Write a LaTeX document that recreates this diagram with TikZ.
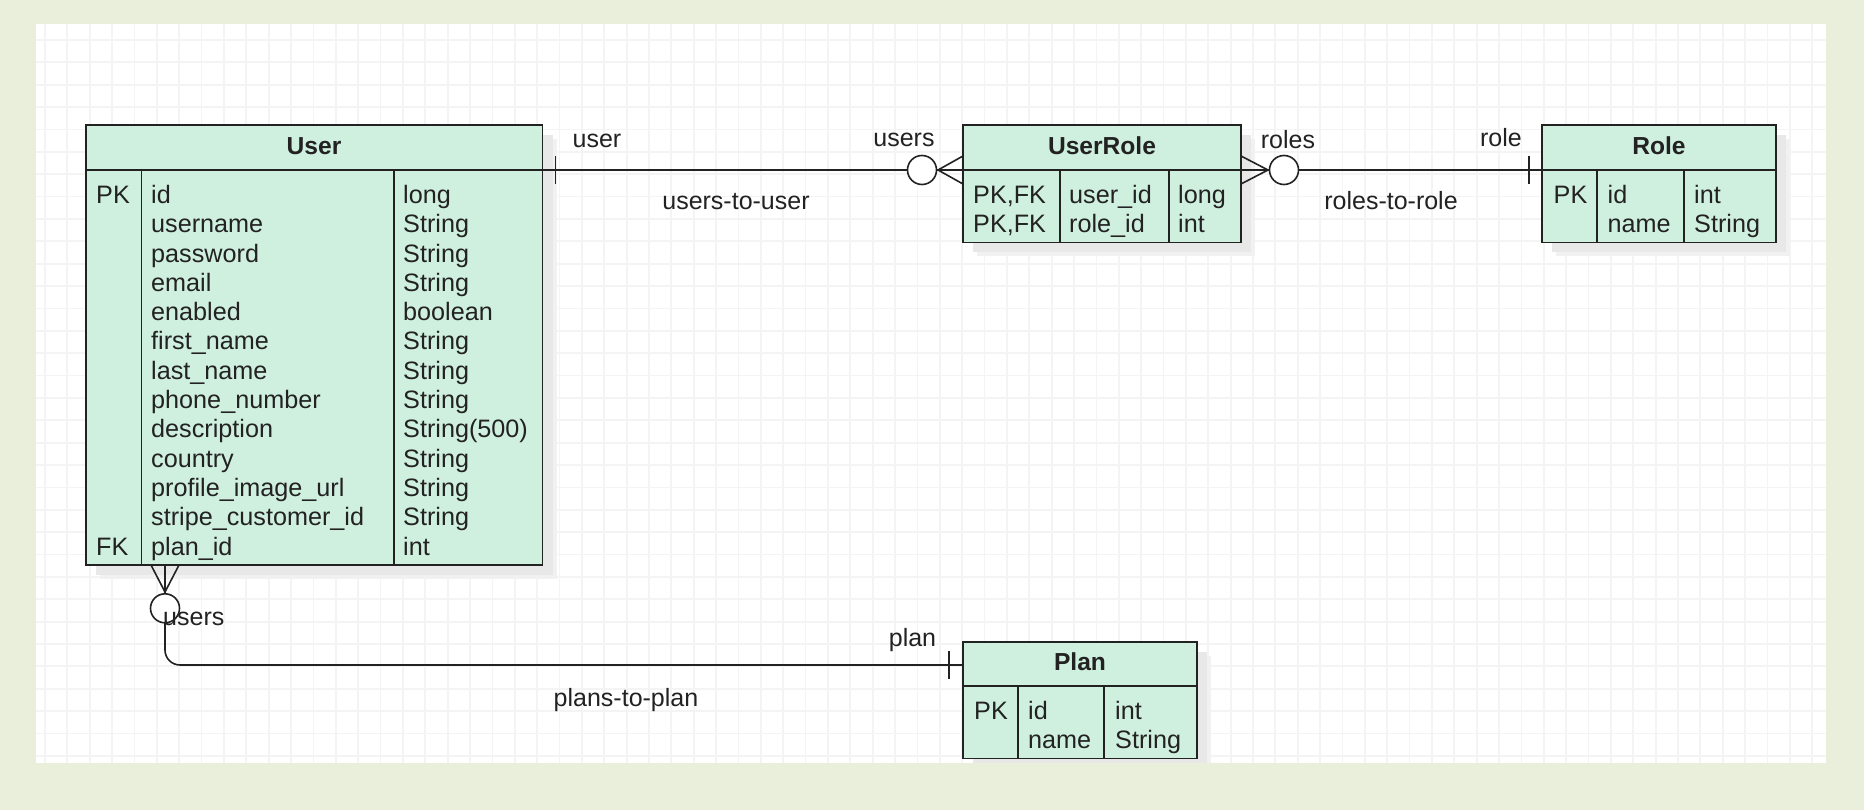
\documentclass[tikz,border=0pt]{standalone}
\usepackage{fontspec}
\setmainfont{Liberation Sans}
\usetikzlibrary{calc}
\definecolor{outerbg}{RGB}{234,239,220}
\definecolor{tblfill}{RGB}{208,240,223}
\definecolor{ink}{RGB}{34,34,34}
\definecolor{gridc}{RGB}{244,244,244}
\definecolor{shadowA}{RGB}{241,241,241}
\definecolor{shadowB}{RGB}{232,232,232}
\begin{document}
\begin{tikzpicture}[x=1pt,y=-1pt,
  tbl/.style={draw=ink, line width=1.6pt, fill=tblfill, inner sep=0pt, outer sep=0pt, anchor=north west},
  cell/.style={inner sep=0pt, anchor=base west, text=ink, font=\fontsize{25.2}{29.3}\selectfont},
  ttl/.style={inner sep=0pt, anchor=base, text=ink, font=\fontsize{24.6}{29.3}\selectfont\bfseries},
  lbl/.style={inner sep=0pt, anchor=base, text=ink, font=\fontsize{25}{29.3}\selectfont},
  conn/.style={draw=ink, line width=1.6pt},
  inner/.style={draw=ink, line width=1.6pt},
  thick/.style={draw=ink, line width=2.8pt},
  ring/.style={circle, draw=ink, line width=1.6pt, fill=white, minimum size=29pt, inner sep=0pt},
  gridline/.style={draw=gridc, line width=1.8pt}]
\fill[outerbg] (0,0) rectangle (1864,810);
\useasboundingbox (0,0) rectangle (1864,810);
\fill[white] (35.7,24) rectangle (1825.7,762.7);
\begin{scope}
\clip (35.7,24) rectangle (1825.7,762.7);
\foreach \k in {0,...,79} \draw[gridline] ({45+22.37*\k},24) -- ({45+22.37*\k},762.7);
\foreach \k in {0,...,32} \draw[gridline] (35.7,{40+22.37*\k}) -- (1825.7,{40+22.37*\k});
% shadows
\foreach \a/\b/\c/\d in {86/125/542.5/565, 963/125/1241/242.5, 1542/125/1776/242.5, 963/642/1197/758.5} {
  \fill[shadowA] (\a+14,\b+14) rectangle (\c+14,\d+14);
  \fill[shadowB] (\a+10,\b+10) rectangle (\c+10,\d+10);
}
\end{scope}

% ---------- User ----------
\node[tbl, minimum width=456.5pt, minimum height=440pt] (user) at (86,125) {};
\draw[inner] (86,170) -- (542.5,170);
\draw[thick] (86,170) -- (174,170);
\draw[thick] (500,170) -- (542.5,170);
\draw[inner] (141.3,170) -- (141.3,565);
\draw[inner] (393.7,170) -- (393.7,565);
\node[ttl] (user-title) at (314,154.3) {User};
\node[cell] (uk0) at (96,203.5) {PK};
\node[cell] (uk12) at (96,{203.5+29.3*12}) {FK};
\foreach \n [count=\i from 0] in {id,username,password,email,enabled,first\_name,last\_name,phone\_number,description,country,profile\_image\_url,stripe\_customer\_id,plan\_id}
  \node[cell] (un\i) at (151,{203.5+29.3*\i}) {\n};
\foreach \t [count=\i from 0] in {long,String,String,String,boolean,String,String,String,String(500),String,String,String,int}
  \node[cell] (ut\i) at (403,{203.5+29.3*\i}) {\t};

% ---------- UserRole ----------
\node[tbl, minimum width=278pt, minimum height=117.5pt] (userrole) at (963,125) {};
\draw[inner] (963,170) -- (1241,170);
\draw[thick] (963,170) -- (1015,170);
\draw[thick] (1214,170) -- (1241,170);
\draw[inner] (1060,170) -- (1060,242.5);
\draw[inner] (1169,170) -- (1169,242.5);
\node[ttl] (userrole-title) at (1102,154.3) {UserRole};
\node[cell] (rk0) at (973,203.5) {PK,FK};
\node[cell] (rk1) at (973,232.8) {PK,FK};
\node[cell] (rn0) at (1069,203.5) {user\_id};
\node[cell] (rn1) at (1069,232.8) {role\_id};
\node[cell] (rt0) at (1178,203.5) {long};
\node[cell] (rt1) at (1178,232.8) {int};

% ---------- Role ----------
\node[tbl, minimum width=234pt, minimum height=117.5pt] (role) at (1542,125) {};
\draw[inner] (1542,170) -- (1776,170);
\draw[thick] (1542,170) -- (1586,170);
\draw[thick] (1754,170) -- (1776,170);
\draw[inner] (1597,170) -- (1597,242.5);
\draw[inner] (1684,170) -- (1684,242.5);
\node[ttl] (role-title) at (1659,154.3) {Role};
\node[cell] (ok0) at (1553.5,203.5) {PK};
\node[cell] (on0) at (1607.5,203.5) {id};
\node[cell] (on1) at (1607.5,232.8) {name};
\node[cell] (ot0) at (1694,203.5) {int};
\node[cell] (ot1) at (1694,232.8) {String};

% ---------- Plan ----------
\node[tbl, minimum width=234pt, minimum height=116.5pt] (plan) at (963,642) {};
\draw[inner] (963,686) -- (1197,686);
\draw[inner] (1017.7,686) -- (1017.7,758.5);
\draw[inner] (1104,686) -- (1104,758.5);
\node[ttl] (plan-title) at (1080,670.5) {Plan};
\node[cell] (pk0) at (974,719) {PK};
\node[cell] (pn0) at (1028,719) {id};
\node[cell] (pn1) at (1028,748) {name};
\node[cell] (pt0) at (1115,719) {int};
\node[cell] (pt1) at (1115,748) {String};

% ---------- users-to-user ----------
\coordinate (uR) at ([yshift=-45pt]user.north east);
\coordinate (urL) at ([yshift=-45pt]userrole.north west);
\draw[conn] (uR) -- (urL);
\draw[conn] ([xshift=13pt,yshift=-14pt]uR) -- ([xshift=13pt,yshift=14pt]uR);
\draw[conn] ([yshift=14pt]urL) -- ([xshift=-25pt]urL) -- ([yshift=-14pt]urL);
\node[ring] (ring1) at ([xshift=-41pt]urL) {};
\node[lbl] (l-user) at (597,148) {user};
\node[lbl] (l-users1) at (904,147) {users};
\node[lbl] (l-u2u) at (736,210) {users-to-user};

% ---------- roles-to-role ----------
\coordinate (urR) at ([yshift=-45pt]userrole.north east);
\coordinate (rL) at ([yshift=-45pt]role.north west);
\draw[conn] (urR) -- (rL);
\draw[conn] ([yshift=14pt]urR) -- ([xshift=27pt]urR) -- ([yshift=-14pt]urR);
\node[ring] (ring2) at ([xshift=43pt]urR) {};
\draw[conn] ([xshift=-13pt,yshift=-14pt]rL) -- ([xshift=-13pt,yshift=14pt]rL);
\node[lbl] (l-roles) at (1288,149) {roles};
\node[lbl] (l-role) at (1501,147) {role};
\node[lbl] (l-r2r) at (1391,210) {roles-to-role};

% ---------- plans-to-plan ----------
\coordinate (uB) at ([xshift=79pt]user.south west);
\coordinate (pL) at ([yshift=-23pt]plan.north west);
\draw[conn, rounded corners=15pt] (uB) |- (pL);
\draw[conn] ([xshift=-14pt]uB) -- ([yshift=-27pt]uB) -- ([xshift=14pt]uB);
\node[ring] (ring3) at ([yshift=-43.3pt]uB) {};
\draw[conn] ([xshift=-14pt,yshift=14pt]pL) -- ([xshift=-14pt,yshift=-14pt]pL);
\node[lbl, anchor=base west] (l-users2) at (163,625) {users};
\node[lbl] (l-plan) at (912.5,646.5) {plan};
\node[lbl] (l-p2p) at (626,706) {plans-to-plan};
\end{tikzpicture}
\end{document}
